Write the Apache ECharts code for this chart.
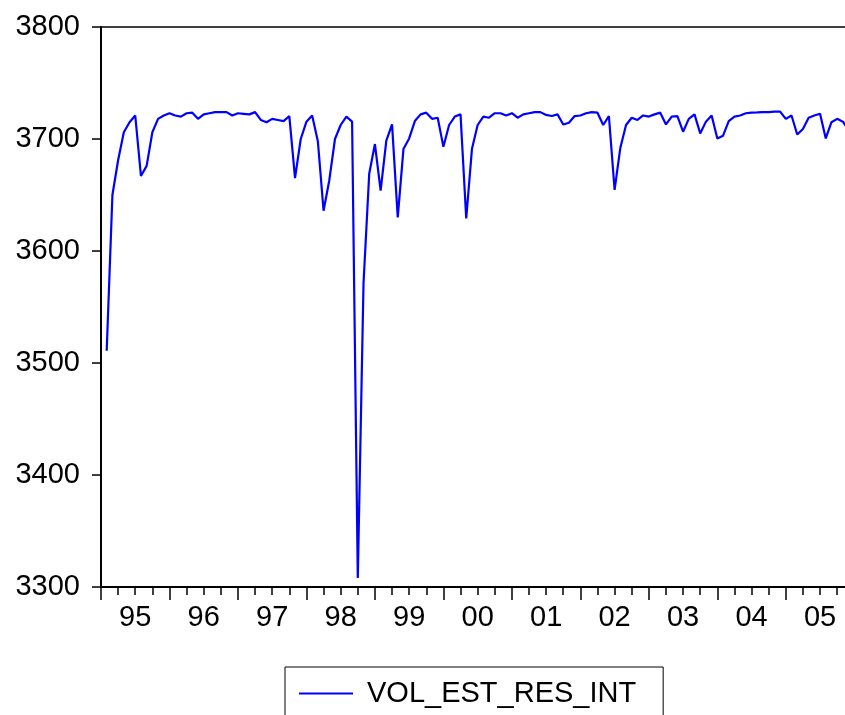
<!DOCTYPE html>
<html>
<head>
<meta charset="utf-8">
<script src="https://cdn.jsdelivr.net/npm/echarts@6/dist/echarts.min.js"></script>
<style>
html,body{margin:0;padding:0;background:#fff;}
#chart{width:845px;height:715px;}
</style>
</head>
<body>
<div id="chart"></div>
<script>
// Monthly observations, 1995M01 .. 2005M12
const startYear = 1995;
const monthCount = 132;
const seriesName = 'VOL_EST_RES_INT';
const values = [
  3511, 3650, 3681, 3706, 3715, 3721, 3667, 3676, 3706, 3718, 3721, 3723,
  3721, 3720, 3723, 3723.5, 3718, 3722, 3723, 3724, 3724, 3724, 3721, 3723,
  3722.5, 3722, 3724, 3717, 3715, 3718, 3717, 3716, 3720.5, 3665, 3700, 3715.5,
  3721, 3698, 3636, 3663, 3700, 3712.5, 3720, 3715.5, 3308, 3571, 3669, 3695.5,
  3654, 3698.5, 3713, 3630, 3691, 3700.5, 3716, 3722, 3723.5, 3718, 3719, 3693,
  3712.5, 3720, 3722, 3629, 3691, 3712.5, 3720, 3719, 3723, 3723, 3721, 3723,
  3719, 3722, 3723, 3724, 3724, 3721.5, 3720.5, 3722, 3713, 3714.5, 3720.5, 3721,
  3723, 3724, 3723.5, 3712.5, 3720.5, 3654.5, 3692, 3712.5, 3719, 3717, 3721, 3720,
  3722, 3723.5, 3713, 3720, 3720.5, 3706.5, 3718, 3722, 3705, 3715.5, 3721, 3700.5,
  3703, 3716, 3720, 3721, 3723, 3723.5, 3723.7, 3724, 3724, 3724.5, 3724.5, 3718,
  3721, 3704, 3709, 3719, 3721, 3722.5, 3700.5, 3715, 3718, 3715.5, 3708, 3712
];
const yTicks = [3300, 3400, 3500, 3600, 3700, 3800];
const yearLabels = ['95','96','97','98','99','00','01','02','03','04','05'];

// dates 'YYYY-MM'
const dates = [];
for (let i = 0; i < monthCount; i++) {
  const y = startYear + Math.floor(i / 12);
  const m = (i % 12) + 1;
  dates.push(y + '-' + String(m).padStart(2, '0'));
}
// position on a month scale measured from the start of 1995 (observation drawn at month end)
function monthPos(d) {
  const [y, m] = d.split('-').map(Number);
  return (y - startYear) * 12 + m;
}
const seriesData = dates.map((d, i) => [monthPos(d), values[i]]);

const font = 'Liberation Sans, Arial, sans-serif';
const chart = echarts.init(document.getElementById('chart'), null, {renderer: 'canvas'});
chart.setOption({
  backgroundColor: '#ffffff',
  animation: false,
  grid: {
    left: 101, right: -15, top: 27, bottom: 128,
    containLabel: false,
    outerBoundsMode: 'none',
    show: true, borderColor: '#000', borderWidth: 1.5, backgroundColor: 'transparent'
  },
  xAxis: [
    {
      type: 'value', min: 0, max: 133, interval: 6, position: 'bottom',
      axisLine: {show: true, onZero: false, lineStyle: {color: '#000', width: 2}},
      axisTick: {show: false},
      splitLine: {show: false},
      axisLabel: {
        show: true, margin: 16, color: '#000', fontSize: 29, fontFamily: font,
        showMinLabel: true, showMaxLabel: true, hideOverlap: false,
        formatter: function (v) {
          if (v % 12 === 6) {
            const idx = (v - 6) / 12;
            return yearLabels[idx] || '';
          }
          return '';
        }
      }
    },
    {
      type: 'value', min: 0, max: 133, interval: 12, position: 'bottom',
      axisLine: {show: false, onZero: false},
      axisTick: {show: true, inside: false, length: 13, lineStyle: {color: '#000', width: 1.5}},
      minorTick: {show: true, splitNumber: 4, length: 8, lineStyle: {color: '#000', width: 1.5}},
      splitLine: {show: false},
      minorSplitLine: {show: false},
      axisLabel: {show: false}
    }
  ],
  yAxis: {
    type: 'value', min: yTicks[0], max: yTicks[yTicks.length - 1], interval: 100,
    axisLine: {show: true, onZero: false, lineStyle: {color: '#000', width: 2}},
    axisTick: {show: true, inside: false, length: 9, lineStyle: {color: '#000', width: 1.5}},
    splitLine: {show: false},
    axisLabel: {margin: 21, color: '#000', fontSize: 29, fontFamily: font,
      formatter: function (v) { return String(v); }}
  },
  legend: {
    show: true,
    data: [seriesName],
    left: 285, top: 667,
    orient: 'horizontal',
    backgroundColor: '#fff',
    borderColor: '#000', borderWidth: 1,
    padding: [12, 27, 14, 14],
    icon: 'rect',
    itemWidth: 54, itemHeight: 2,
    textStyle: {color: '#000', fontSize: 29, fontFamily: font, padding: [0, 0, 0, 9]}
  },
  series: [{
    name: seriesName,
    type: 'line',
    xAxisIndex: 0,
    data: seriesData,
    showSymbol: false,
    symbol: 'none',
    color: '#0000ff',
    lineStyle: {color: '#0000ff', width: 2.2},
    itemStyle: {color: '#0000ff'}
  }]
});
</script>
</body>
</html>
